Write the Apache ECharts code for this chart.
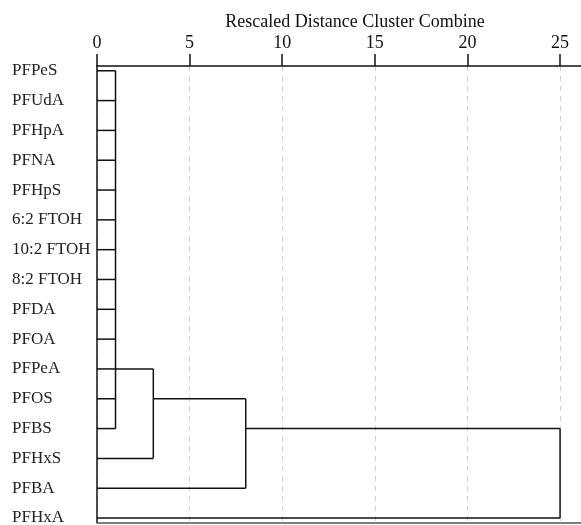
<!DOCTYPE html>
<html>
<head>
<meta charset="utf-8">
<script src="https://cdn.jsdelivr.net/npm/echarts@6/dist/echarts.min.js"></script>
<style>html,body{margin:0;padding:0;background:#fff;}#c{width:581px;height:525px;}</style>
</head>
<body>
<div id="c"></div>
<script>
// ---- data ----
const leaves = ['PFPeS','PFUdA','PFHpA','PFNA','PFHpS','6:2 FTOH','10:2 FTOH','8:2 FTOH','PFDA','PFOA','PFPeA','PFOS','PFBS','PFHxS','PFBA','PFHxA'];
// cluster each leaf joins first
const leafParent = [0,0,0,0,0,0,0,0,0,0,0,0,0,1,2,3];
// rescaled distance at which each cluster is formed
const clusterDist = [1.0, 3.04, 8.03, 25];
// parent of each cluster (null = root)
const clusterParent = [1, 2, 3, null];
// row (leaf index) at which each cluster's outgoing link is drawn
const clusterRow = [10, 11, 12, null];
const xTicks = [0, 5, 10, 15, 20, 25];
const axisTitle = 'Rescaled Distance Cluster Combine';

// ---- build segments ----
const segments = [];
leaves.forEach((name, i) => {
  segments.push([0, i, clusterDist[leafParent[i]], i]);
});
clusterDist.forEach((d, k) => {
  const rows = [];
  leafParent.forEach((p, i) => { if (p === k) rows.push(i); });
  clusterParent.forEach((p, j) => { if (p === k) rows.push(clusterRow[j]); });
  segments.push([d, Math.min(...rows), d, Math.max(...rows)]);
  if (clusterParent[k] !== null) {
    segments.push([d, clusterRow[k], clusterDist[clusterParent[k]], clusterRow[k]]);
  }
});

const FONT = 'Liberation Serif';
const chart = echarts.init(document.getElementById('c'), null, { width: 581, height: 525 });
chart.setOption({
  animation: false,
  backgroundColor: '#fff',
  title: {
    text: axisTitle,
    left: 350, top: 8, textAlign: 'center',
    textStyle: { fontFamily: FONT, fontSize: 18, fontWeight: 'normal', color: '#111' }
  },
  grid: { left: 97, right: 0, top: 66, height: 456.5, containLabel: false, outerBoundsMode: 'none' },
  xAxis: [{
    type: 'value', position: 'top', min: 0, max: 26.13, interval: 5,
    axisLine: { show: true, onZero: false, lineStyle: { color: '#111', width: 1.5 } },
    axisTick: { show: true, inside: false, length: 12, lineStyle: { color: '#111', width: 1.5 } },
    axisLabel: { margin: 14, showMaxLabel: false, fontFamily: FONT, fontSize: 18, color: '#111',
      formatter: v => (xTicks.indexOf(v) >= 0 ? String(v) : '') },
    splitLine: { show: true, lineStyle: { color: '#cfcfcf', width: 1, type: [5, 5] } }
  }, {
    type: 'value', position: 'bottom', min: 0, max: 26.13,
    axisLine: { show: true, onZero: false, lineStyle: { color: '#555', width: 1.5 } },
    axisTick: { show: false }, axisLabel: { show: false }, splitLine: { show: false }
  }],
  yAxis: {
    type: 'value', inverse: true, min: -0.16, max: 15.15,
    axisLine: { show: true, onZero: false, lineStyle: { color: '#111', width: 1.5 } },
    axisTick: { show: false },
    splitLine: { show: false },
    axisLabel: {
      customValues: leaves.map((n, i) => i),
      formatter: v => leaves[Math.round(v)] || '',
      align: 'left', margin: 85,
      fontFamily: FONT, fontSize: 17, color: '#222'
    }
  },
  series: [{
    type: 'custom',
    xAxisIndex: 0,
    coordinateSystem: 'cartesian2d',
    data: segments,
    encode: { x: [0, 2], y: [1, 3] },
    renderItem: (params, api) => {
      const p1 = api.coord([api.value(0), api.value(1)]);
      const p2 = api.coord([api.value(2), api.value(3)]);
      return {
        type: 'line',
        shape: { x1: p1[0], y1: p1[1], x2: p2[0], y2: p2[1] },
        style: { stroke: '#111', lineWidth: 1.5 }
      };
    }
  }]
});
</script>
</body>
</html>
